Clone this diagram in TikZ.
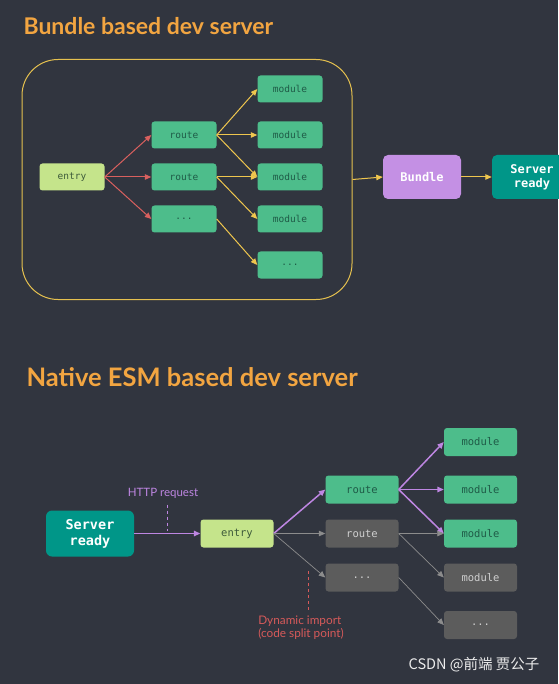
\documentclass[tikz,border=0pt]{standalone}
\usepackage{fontspec}
\setmainfont{Lato}
\setmonofont{DejaVu Sans Mono}
\newfontfamily\cjkfont{Noto Sans CJK SC}
\usepackage{tikz}
\usetikzlibrary{arrows.meta}
\definecolor{bgDark}{HTML}{31353F}
\definecolor{titleOrange}{HTML}{F2A541}
\definecolor{frameYellow}{HTML}{E6C14F}
\definecolor{arrowYellow}{HTML}{EFC64E}
\definecolor{arrowRed}{HTML}{D9605E}
\definecolor{entryLime}{HTML}{C5E48B}
\definecolor{entryText}{HTML}{3D5A3A}
\definecolor{modGreen}{HTML}{4DBD8B}
\definecolor{modText}{HTML}{1F5B47}
\definecolor{bundlePurple}{HTML}{C490E4}
\definecolor{serverTeal}{HTML}{009688}
\definecolor{reqPurple}{HTML}{BE86E2}
\definecolor{idleGray}{HTML}{5C5C5C}
\definecolor{idleText}{HTML}{CFCFCF}
\definecolor{idleArrow}{HTML}{8C8C8C}
\definecolor{splitRed}{HTML}{D65A5A}
\newcommand{\moreDots}{...}

\begin{document}
\begin{tikzpicture}[x=1pt,y=-1pt,
    box/.style={rounded corners=3pt, minimum width=65pt, minimum height=27pt, inner sep=0pt},
    smallbox/.style={box, font=\ttfamily\fontsize{9.5}{10}\selectfont},
    bigbox/.style={box, minimum width=73pt, minimum height=28pt, font=\ttfamily\fontsize{10.5}{11}\selectfont},
    lime/.style={fill=entryLime, text=entryText},
    grn/.style={fill=modGreen, text=modText},
    idle/.style={fill=idleGray, text=idleText},
    tip/.style={-{Triangle[length=6.5pt,width=5.5pt]}},
    title/.style={anchor=west, text=titleOrange, font=\fontsize{23}{26}\selectfont\bfseries}]
    \useasboundingbox (0,0) rectangle (558,684);
    \fill[bgDark] (0,0) rectangle (558,684);

    % bundle based
    \node[title] (titleA) at (20,26) {Bundle based dev server};
    \node[draw=frameYellow, line width=1pt, rounded corners=36pt, minimum width=330pt, minimum height=240pt] (frame) at (187,179.5) {};
    \node[smallbox, lime] (entryA) at (72,177) {entry};
    \node[smallbox, grn] (routeA1) at (184,135) {route};
    \node[smallbox, grn] (routeA2) at (184,177) {route};
    \node[smallbox, grn] (routeA3) at (184,219) {\moreDots};
    \foreach \i/\y/\lbl in {1/89/module, 2/135/module, 3/177/module, 4/219/module, 5/265/\moreDots}
        \node[smallbox, grn] (modA\i) at (290,\y) {\lbl};
    \node[box, fill=bundlePurple, text=white, minimum width=78pt, minimum height=44pt, rounded corners=5pt, font=\ttfamily\bfseries\fontsize{12}{13}\selectfont] (bundle) at (422,177) {Bundle};
    \node[box, fill=serverTeal, text=white, minimum width=80pt, minimum height=44pt, rounded corners=5pt, align=center, font=\ttfamily\bfseries\fontsize{12}{14}\selectfont] (serverA) at (532,177) {Server\\ready};

    \foreach \r in {1,2,3}
        \draw[arrowRed, line width=1pt, tip] (entryA.east) -- (routeA\r.west);
    \foreach \r/\m in {1/1, 1/2, 1/3, 2/3, 2/4, 3/5}
        \draw[arrowYellow, line width=1pt, tip] (routeA\r.east) -- (modA\m.west);
    \draw[arrowYellow, line width=1pt, tip] (frame.east) -- (bundle.west);
    \draw[arrowYellow, line width=1pt, tip] (bundle.east) -- (serverA.west);

    % native esm
    \node[title, font=\fontsize{25.5}{28}\selectfont\bfseries] (titleB) at (23,377) {Native ESM based dev server};
    \node[box, fill=serverTeal, text=white, minimum width=88pt, minimum height=46pt, rounded corners=6pt, align=center, font=\ttfamily\bfseries\fontsize{13.5}{16}\selectfont] (serverB) at (90,533.5) {Server\\ready};
    \node[bigbox, lime] (entryB) at (237,533.5) {entry};
    \node[bigbox, grn] (routeB1) at (362,489.5) {route};
    \node[bigbox, idle] (routeB2) at (362,533.5) {route};
    \node[bigbox, idle] (routeB3) at (362,577.5) {\moreDots};
    \foreach \i/\y/\lbl/\sty in {1/442/module/grn, 2/489.5/module/grn, 3/533.5/module/grn, 4/577.5/module/idle, 5/625/\moreDots/idle}
        \node[bigbox, \sty] (modB\i) at (480.5,\y) {\lbl};

    \draw[reqPurple, line width=1.5pt, tip] (serverB.east) -- (entryB.west);
    \draw[reqPurple, line width=1.5pt, tip] (entryB.east) -- (routeB1.west);
    \foreach \m in {1,2,3}
        \draw[reqPurple, line width=1.5pt, tip] (routeB1.east) -- (modB\m.west);
    \foreach \r/\m in {2/3, 2/4, 3/5}
        \draw[idleArrow, line width=0.7pt, tip] (routeB\r.east) -- (modB\m.west);
    \draw[idleArrow, line width=0.7pt, tip] (entryB.east) -- (routeB2.west);
    \draw[idleArrow, line width=0.7pt, tip] (entryB.east) -- (routeB3.west);

    \node[text=reqPurple, font=\fontsize{11.5}{13}\selectfont] (httpLbl) at (163,493) {HTTP request};
    \coordinate (httpTip) at (167,531);
    \draw[reqPurple, dashed, line width=0.8pt, shorten <=3pt] (httpLbl.south -| httpTip) -- (httpTip);
    \node[text=splitRed, align=left, font=\fontsize{11.8}{13}\selectfont] (dynLbl) at (301,628) {Dynamic import\\(code split point)};
    \coordinate (dynTop) at (308,571);
    \draw[splitRed, dashed, line width=0.8pt, shorten >=3pt] (dynTop) -- (dynTop |- dynLbl.north);

    \node[text=white!85!gray, font=\cjkfont\fontsize{14.5}{16}\selectfont] (mark) at (474,665) {CSDN @前端 贾公子};
\end{tikzpicture}
\end{document}
